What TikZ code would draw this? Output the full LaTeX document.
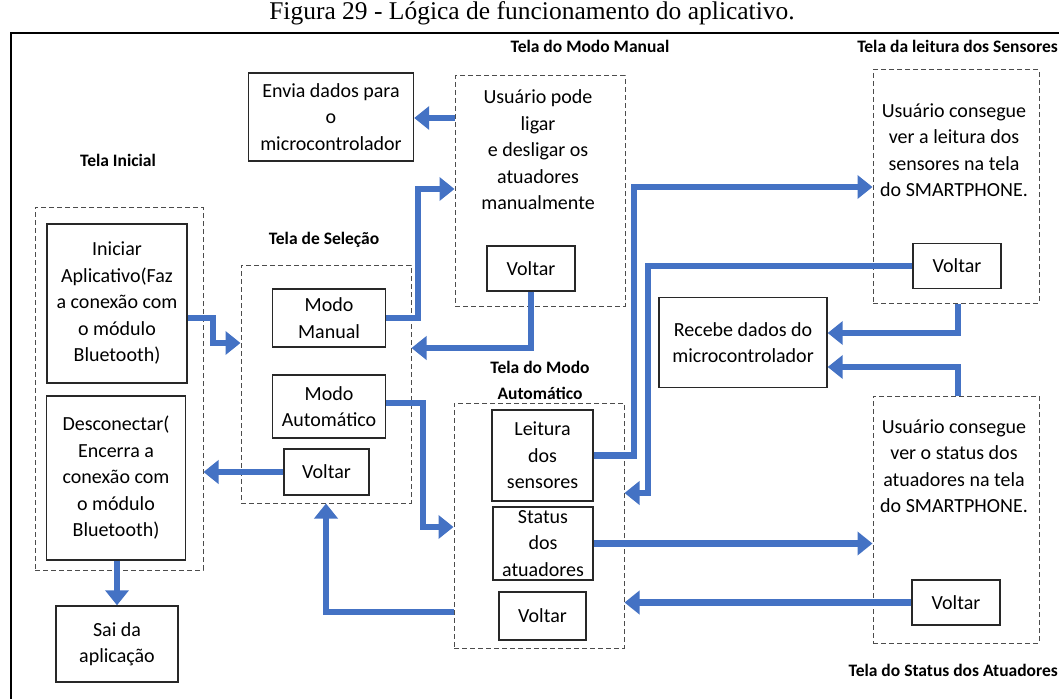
\documentclass[tikz,border=0pt]{standalone}
\usepackage{fontspec}
\setmainfont{Carlito}
\newfontfamily\captionfont{Liberation Serif}
\usetikzlibrary{arrows.meta}
\definecolor{flowblue}{RGB}{68,114,196}
\definecolor{inkgray}{RGB}{40,40,40}
\begin{document}
\begin{tikzpicture}[x=1pt,y=-1pt,
  sz/.style 2 args={minimum width=#1pt,minimum height=#2pt,inner sep=0pt},
  box/.style={draw=inkgray,line width=1.4pt,fill=white,align=center,
    font=\fontsize{20}{26.5}\selectfont},
  screen/.style={draw=black!70,line width=1pt,dash pattern=on 5pt off 3pt},
  body/.style={align=center,font=\fontsize{20}{26.5}\selectfont,inner sep=0pt},
  heading/.style={font=\bfseries\fontsize{17.5}{26}\selectfont,align=center,inner sep=0pt},
  arr/.style={draw=flowblue,line width=6.5pt,
    -{Triangle[length=15pt,width=23pt]}},
]
\useasboundingbox (0,0) rectangle (1059,698);

% caption and outer frame
\node[font=\captionfont\fontsize{25.5}{28}\selectfont,inner sep=0pt,anchor=base] (caption) at (532,20)
  {Figura 29 - Lógica de funcionamento do aplicativo.};
\draw[line width=2.5pt] (11,700) -- (11,33) -- (1061,33);

% dashed screen frames
\node[screen,sz={168}{363}] (inidash) at (119,388.5) {};
\node[screen,sz={170}{238}] (seldash) at (326,384) {};
\node[screen,sz={170}{230}] (mandash) at (540,191) {};
\node[screen,sz={170}{245}] (autodash) at (539,525.5) {};
\node[screen,sz={166}{233}] (sensdash) at (956,186.5) {};
\node[screen,sz={166}{247}] (statdash) at (956,519.5) {};

% screen headings
\node[heading] (hini) at (118,160) {Tela Inicial};
\node[heading] (hsel) at (324,240) {Tela de Seleção};
\node[heading] (hman) at (590,46) {Tela do Modo Manual};
\node[heading,anchor=east] (hsens) at (1058,46) {Tela da leitura dos Sensores};
\node[heading] (hauto) at (540,380) {Tela do Modo\\Automático};
\node[heading,anchor=east] (hstat) at (1058,670) {Tela do Status dos Atuadores};

% boxes of the start screen
\node[box,sz={140}{159}] (iniciar) at (117,303.5)
  {Iniciar\\Aplicativo(Faz\\a conexão com\\o módulo\\Bluetooth)};
\node[box,sz={139}{164}] (descon) at (116,478)
  {Desconectar(\\Encerra a\\conexão com\\o módulo\\Bluetooth)};
\node[box,sz={122}{76}] (sai) at (117,644) {Sai da\\aplicação};

% selection screen
\node[box,sz={113}{58}] (modoman) at (329,318) {Modo\\Manual};
\node[box,sz={113}{63}] (modoauto) at (329,406.5) {Modo\\Automático};
\node[box,sz={85}{46}] (selvoltar) at (326.5,472) {Voltar};

% manual mode screen
\node[box,sz={165}{88}] (envia) at (331,117)
  {Envia dados para\\o\\microcontrolador};
\node[body] (mantext) at (538,150)
  {Usuário pode\\ligar\\e desligar os\\atuadores\\manualmente};
\node[box,sz={88}{45}] (manvoltar) at (531,268.5) {Voltar};

% automatic mode screen
\node[box,sz={101}{91}] (leitura) at (542.5,455.5) {Leitura\\dos\\sensores};
\node[box,sz={100}{73},text depth=0pt] (status) at (543,543.5) {Status\\dos\\atuadores};
\node[box,sz={87}{48}] (autovoltar) at (542.5,616) {Voltar};

% sensor reading screen
\node[body] (senstext) at (954,150)
  {Usuário consegue\\ver a leitura dos\\sensores na tela\\do SMARTPHONE.};
\node[box,sz={88}{45}] (sensvoltar) at (957,266) {Voltar};

% microcontroller data
\node[box,sz={168}{90}] (recebe) at (743,342.5) {Recebe dados do\\microcontrolador};

% actuator status screen
\node[body] (stattext) at (954,466)
  {Usuário consegue\\ver o status dos\\atuadores na tela\\do SMARTPHONE.};
\node[box,sz={88}{45}] (statvoltar) at (956,602.5) {Voltar};

% connectors
\draw[arr] (mandash.west |- 0,118) -- (envia.east |- 0,118);
\draw[arr] (iniciar.east |- 0,318) -- (213,318) |- (seldash.west |- 0,343);
\draw[arr] (modoman.east) -- (418,318) |- (mandash.west |- 0,189);
\draw[arr] (manvoltar.south) |- (seldash.east |- 0,348);
\draw[arr] (modoauto.east |- 0,403) -- (423,403) |- (autodash.west |- 0,527);
\draw[arr] (selvoltar.west) -- (inidash.east |- selvoltar.west);
\draw[arr] (sai.north |- descon.south) -- (sai.north);
\draw[arr] (autodash.west |- 0,612) -| (seldash.south);
\draw[arr] (leitura.east) -- (634,455.5) |- (sensdash.west |- 0,187);
\draw[arr] (sensvoltar.west) -- (648,266) |- (autodash.east |- 0,493);
\draw[arr] (sensdash.south -| 958,0) |- (recebe.east |- 0,333);
\draw[arr] (statdash.north -| 958,0) |- (recebe.east |- 0,367);
\draw[arr] (status.east) -- (statdash.west |- status.east);
\draw[arr] (statvoltar.west) -- (autodash.east |- statvoltar.west);
\end{tikzpicture}
\end{document}
